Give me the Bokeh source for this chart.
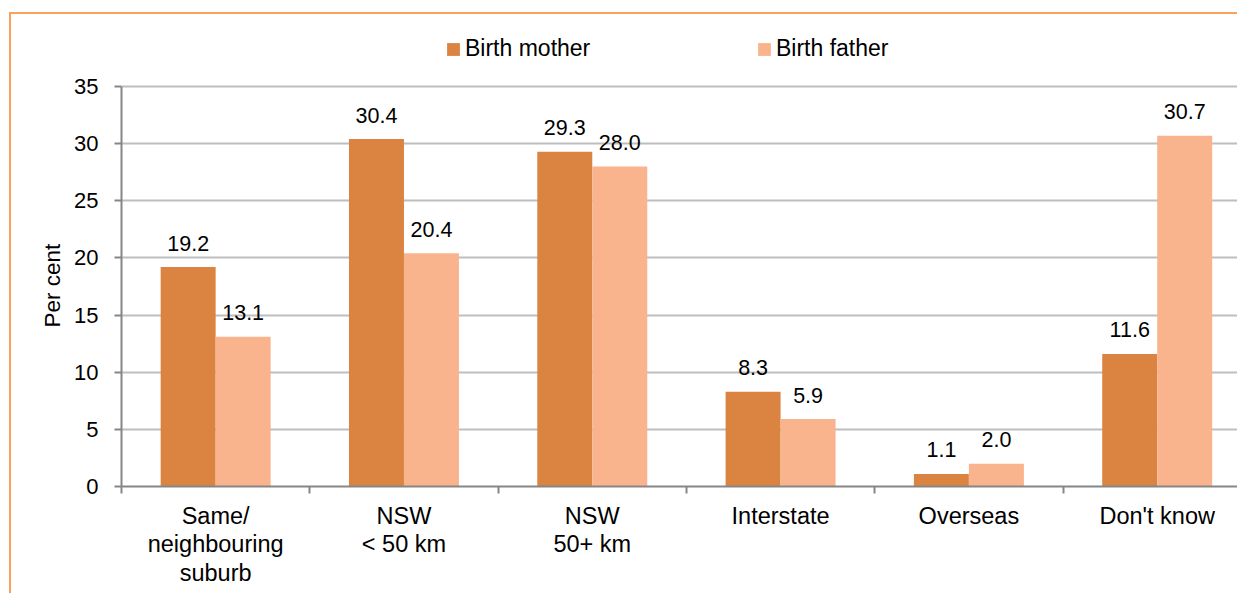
import numpy as np
from bokeh.plotting import figure
from bokeh.models import (ColumnDataSource, Range1d, FixedTicker, Legend, LegendItem, Title)
from bokeh.core.properties import value
from bokeh.embed import file_html
from bokeh.resources import INLINE

categories = ["Same/\nneighbouring\nsuburb", "NSW\n< 50 km", "NSW\n50+ km",
              "Interstate", "Overseas", "Don't know"]
birth_mother = [19.2, 30.4, 29.3, 8.3, 1.1, 11.6]
birth_father = [13.1, 20.4, 28.0, 5.9, 2.0, 30.7]
y_ticks = [0, 5, 10, 15, 20, 25, 30, 35]
y_label = "Per cent"

MOTHER = "#DB8441"
FATHER = "#F9B48E"
BORDER = "#F9A15E"
FONT = "Liberation Sans"

# layout (pixels)
FRAME_TOP_PAD = 6
FRAME_H = 581 - FRAME_TOP_PAD - 109
AXIS_PX = 400  # pixels from 0 to 35

n = len(categories)
centers = np.arange(n) + 0.5
off = 0.146
bw = 0.292

src = ColumnDataSource(dict(
    xm=centers - off, xf=centers + off,
    m=birth_mother, f=birth_father,
    ml=[f"{v:.1f}" for v in birth_mother],
    fl=[f"{v:.1f}" for v in birth_father],
))

ymax = max(y_ticks)
p = figure(width=1228, height=581, output_backend="svg", toolbar_location=None,
           x_range=Range1d(0, 5.937), y_range=Range1d(0, ymax * FRAME_H / AXIS_PX),
           min_border_left=110, min_border_right=0, min_border_top=FRAME_TOP_PAD,
           min_border_bottom=109)
p.margin = (12, 0, 0, 9)
p.styles = {"border-top": f"2px solid {BORDER}", "border-left": f"2px solid {BORDER}"}
p.outline_line_color = None
p.background_fill_color = "white"

r1 = p.vbar(x="xm", top="m", width=bw, source=src, fill_color=MOTHER, line_color=None)
r2 = p.vbar(x="xf", top="f", width=bw, source=src, fill_color=FATHER, line_color=None)

p.text(x="xm", y="m", text="ml", source=src,
       text_align="center", text_baseline="alphabetic", y_offset=-24,
       text_font=value(FONT), text_font_size="21.5px", text_color="#000000")
p.text(x="xf", y="f", text="fl", source=src,
       text_align="center", text_baseline="alphabetic", y_offset=-24,
       text_font=value(FONT), text_font_size="21.5px", text_color="#000000")

# axes
p.xaxis.ticker = FixedTicker(ticks=list(centers), minor_ticks=list(range(n + 1)))
p.xaxis.major_label_overrides = {float(c): lab for c, lab in zip(centers, categories)}
p.xaxis.major_tick_out = 0
p.xaxis.major_tick_in = 0
p.xaxis.minor_tick_out = 7
p.xaxis.minor_tick_in = 0
p.xaxis.minor_tick_line_color = "#868686"
p.xaxis.minor_tick_line_width = 2
p.xaxis.axis_line_color = "#868686"
p.xaxis.axis_line_width = 2
p.xaxis.major_label_text_font = FONT
p.xaxis.major_label_text_font_size = "23.5px"
p.xaxis.major_label_text_color = "#000000"
p.xaxis.major_label_text_line_height = 1.10
p.xaxis.major_label_standoff = 9

p.yaxis.ticker = FixedTicker(ticks=y_ticks)
p.yaxis.bounds = (0, ymax)
p.yaxis.minor_tick_line_color = None
p.yaxis.major_tick_out = 7
p.yaxis.major_tick_in = 0
p.yaxis.major_tick_line_color = "#868686"
p.yaxis.major_tick_line_width = 2
p.yaxis.axis_line_color = "#868686"
p.yaxis.axis_line_width = 2
p.yaxis.major_label_text_font = FONT
p.yaxis.major_label_text_font_size = "22px"
p.yaxis.major_label_text_color = "#000000"
p.yaxis.major_label_standoff = 16

# y-axis title, placed beside the 0..35 span (frame extends higher for the legend)
p.add_layout(Title(text=y_label, align="left", offset=159, standoff=14,
                   text_font=FONT, text_font_size="22.5px", text_font_style="normal",
                   text_color="#000000"), "left")

p.xgrid.grid_line_color = None
p.ygrid.ticker = FixedTicker(ticks=y_ticks)
p.ygrid.grid_line_color = "#BEBEBE"
p.ygrid.grid_line_width = 2

legend = Legend(items=[LegendItem(label="Birth mother", renderers=[r1]),
                       LegendItem(label="Birth father", renderers=[r2])],
                orientation="horizontal", location=(324, 424),
                padding=0, margin=0, spacing=156, label_width=135,
                glyph_width=16, glyph_height=16, label_standoff=4,
                border_line_color=None, background_fill_alpha=0,
                label_text_font=FONT, label_text_font_size="23px",
                label_text_color="#000000")
p.add_layout(legend, "center")

open("out.html", "w").write(file_html(p, INLINE))
